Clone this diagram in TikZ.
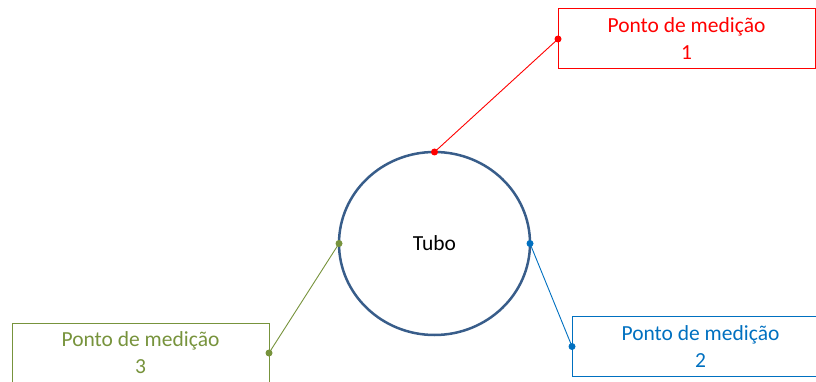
\documentclass[tikz,border=0pt]{standalone}
\usepackage{fontspec}
\setmainfont{Carlito}
\usetikzlibrary{shapes.geometric}
\definecolor{pred}{HTML}{FF0000}
\definecolor{pblue}{HTML}{0070C0}
\definecolor{pgreen}{HTML}{77933C}
\definecolor{pipe}{HTML}{385D8A}
\begin{document}
\begin{tikzpicture}[x=1pt,y=-1pt,
  mbox/.style={draw,line width=1pt,minimum width=257pt,minimum height=60pt,align=center,inner sep=0pt,outer sep=0pt,font=\fontsize{21.5}{27}\selectfont},
  lead/.style={line width=0.9pt},
  tubestyle/.style={ellipse,draw=pipe,line width=2.5pt,outer sep=0pt,minimum width=191pt,minimum height=183pt,font=\fontsize{21.5}{25}\selectfont}]
\useasboundingbox (0,0) rectangle (816,382);
\clip (0,0) rectangle (816,382);
\node[tubestyle] (tubo) at (434.5,243.5) {Tubo};
\node[mbox,pred] (p1) at (686.5,39) {Ponto de medição\\1};
\node[mbox,pblue] (p2) at (700.5,346.5) {Ponto de medição\\2};
\node[mbox,pgreen] (p3) at (140.5,353) {Ponto de medição\\3};
\draw[lead,pred] (tubo.north) -- (p1.west);
\draw[lead,pblue] (tubo.east) -- (p2.west);
\draw[lead,pgreen] (tubo.west) -- (p3.east);
\fill[pred] (tubo.north) circle (3.5pt);
\fill[pred] (p1.west) circle (3.5pt);
\fill[pblue] (tubo.east) circle (3.5pt);
\fill[pblue] (p2.west) circle (3.5pt);
\fill[pgreen] (tubo.west) circle (3.5pt);
\fill[pgreen] (p3.east) circle (3.5pt);
\end{tikzpicture}
\end{document}
